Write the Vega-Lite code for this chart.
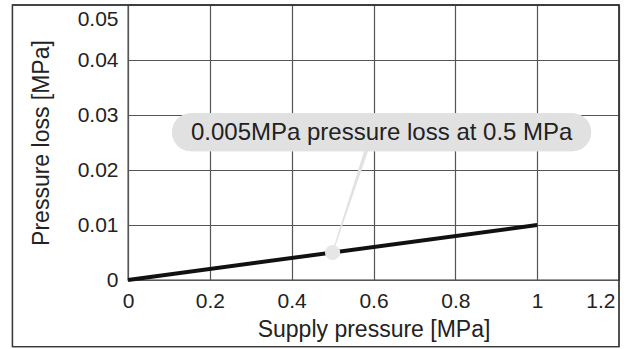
{
  "$schema": "https://vega.github.io/schema/vega-lite/v6.json",
  "autosize": "none",
  "width": 491,
  "height": 275,
  "padding": {"left": 128, "top": 5, "right": 7, "bottom": 69},
  "background": "white",
  "config": {
    "font": "Liberation Sans",
    "view": {"stroke": "#3a3a3a", "strokeWidth": 1.3},
    "axis": {
      "labelFont": "Liberation Sans",
      "titleFont": "Liberation Sans",
      "labelColor": "#222",
      "titleColor": "#222",
      "titleFontWeight": "normal",
      "grid": true,
      "gridColor": "#555",
      "gridWidth": 1.2,
      "gridOpacity": 1,
      "domain": false,
      "ticks": false
    }
  },
  "data": {"values": [
    {"supply": 0, "loss": 0},
    {"supply": 1, "loss": 0.01}
  ]},
  "layer": [
    {
      "mark": {"type": "line", "color": "#111", "strokeWidth": 4},
      "encoding": {
        "x": {
          "field": "supply", "type": "quantitative",
          "scale": {"domain": [0, 1.2], "nice": false},
          "axis": {
            "grid": true,
            "values": [0, 0.2, 0.4, 0.6, 0.8, 1, 1.2],
            "format": "~g",
            "labelFontSize": 21,
            "labelPadding": 10,
            "labelAlign": {"condition": {"test": "datum.value > 1.1", "value": "right"}, "value": "center"},
            "labelOffset": {"condition": {"test": "datum.value > 1.1", "value": -4}, "value": 0},
            "title": "Supply pressure [MPa]",
            "titleFontSize": 23,
            "titlePadding": 7
          }
        },
        "y": {
          "field": "loss", "type": "quantitative",
          "scale": {"domain": [0, 0.05], "nice": false},
          "axis": {
            "grid": true,
            "values": [0, 0.01, 0.02, 0.03, 0.04, 0.05],
            "format": "~g",
            "labelFontSize": 21,
            "labelPadding": 10,
            "labelOffset": {"condition": {"test": "datum.value > 0.045", "value": 14}, "value": 0},
            "title": "Pressure loss [MPa]",
            "titleFontSize": 23,
            "titlePadding": 24
          }
        }
      }
    },
    {
      "data": {"values": [
        {"supply": 0.5, "loss": 0.005, "w": 0},
        {"supply": 0.591, "loss": 0.0255, "w": 16}
      ]},
      "mark": {"type": "trail", "color": "#e2e2e2"},
      "encoding": {
        "x": {"field": "supply", "type": "quantitative"},
        "y": {"field": "loss", "type": "quantitative"},
        "size": {"field": "w", "type": "quantitative", "scale": {"type": "identity"}, "legend": null}
      }
    },
    {
      "data": {"values": [{"supply": 0.5, "loss": 0.005}]},
      "mark": {"type": "point", "filled": true, "color": "#e6e6e6", "opacity": 1, "size": 230},
      "encoding": {
        "x": {"field": "supply", "type": "quantitative"},
        "y": {"field": "loss", "type": "quantitative"}
      }
    },
    {
      "mark": {"type": "rect", "color": "#e1e1e1", "cornerRadius": 19},
      "encoding": {
        "x": {"datum": 0.1076, "type": "quantitative"},
        "x2": {"datum": 1.132},
        "y": {"datum": 0.0234, "type": "quantitative"},
        "y2": {"datum": 0.0303}
      }
    },
    {
      "data": {"values": [{"supply": 0.62, "loss": 0.02685, "label": "0.005MPa pressure loss at 0.5 MPa"}]},
      "mark": {"type": "text", "fontSize": 24, "color": "#222", "align": "center", "baseline": "middle", "dy": 1},
      "encoding": {
        "x": {"field": "supply", "type": "quantitative"},
        "y": {"field": "loss", "type": "quantitative"},
        "text": {"field": "label"}
      }
    },
    {
      "mark": {"type": "rect", "filled": false, "fillOpacity": 0, "stroke": "#3a3a3a", "strokeWidth": 1.3, "clip": false},
      "encoding": {
        "x": {"datum": -0.2824, "type": "quantitative"},
        "x2": {"datum": 1.2},
        "y": {"datum": -0.0121, "type": "quantitative"},
        "y2": {"datum": 0.05}
      }
    }
  ]
}
